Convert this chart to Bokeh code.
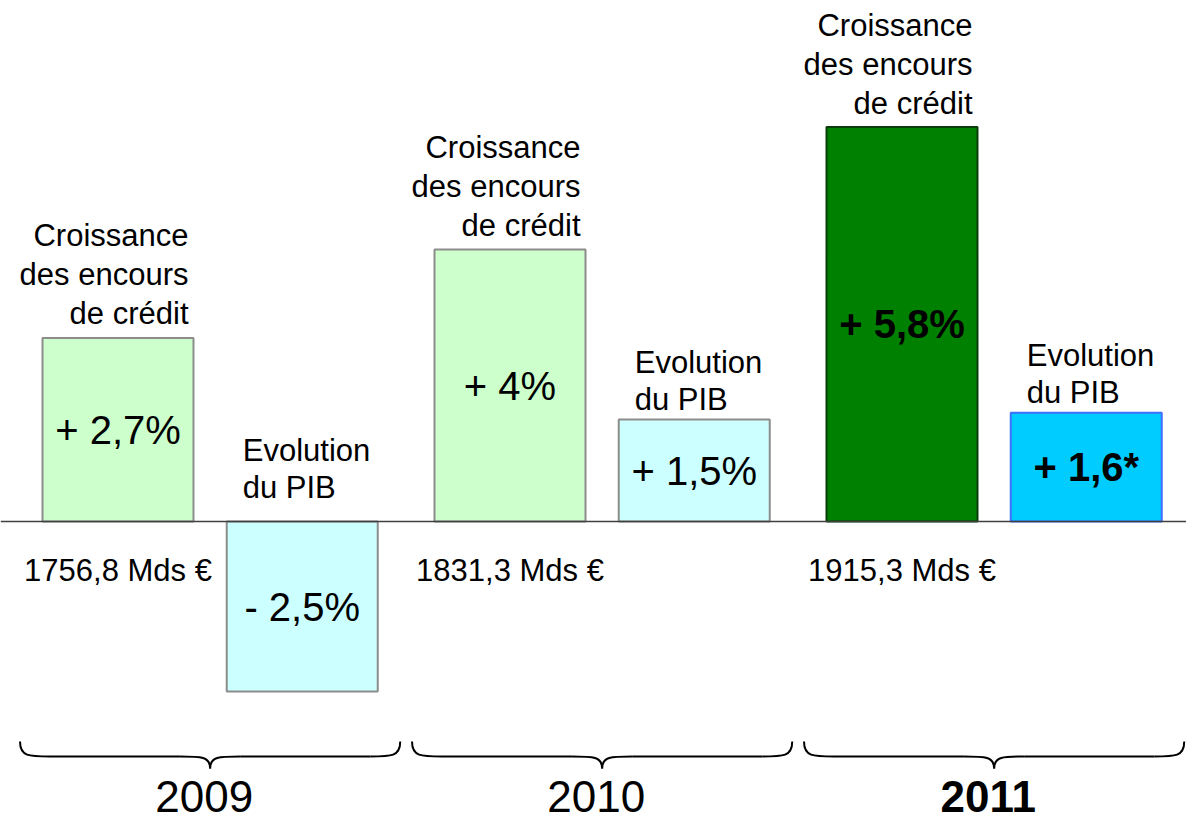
from bokeh.plotting import figure
from bokeh.models import Range1d, Span, ColumnDataSource
from bokeh.core.properties import value
from bokeh.embed import file_html
from bokeh.resources import INLINE

# ---- data ----
years = ["2009", "2010", "2011"]
credit_growth = [2.7, 4.0, 5.8]
pib_growth = [-2.5, 1.5, 1.6]
credit_labels = ["+ 2,7%", "+ 4%", "+ 5,8%"]
pib_labels = ["- 2,5%", "+ 1,5%", "+ 1,6*"]
encours = ["1756,8 Mds €", "1831,3 Mds €", "1915,3 Mds €"]
credit_title = ["Croissance", "des encours", "de crédit"]
pib_title = ["Evolution", "du PIB"]

credit_fill = ["#CCFFCC", "#CCFFCC", "#008000"]
credit_line = ["#8C8C8C", "#8C8C8C", "#0A3D0A"]
pib_fill = ["#CCFFFF", "#CCFFFF", "#00CCFF"]
pib_line = ["#8C8C8C", "#8C8C8C", "#3F6FFF"]
bold = ["normal", "normal", "bold"]

# ---- layout constants ----
W, H = 1186, 822
PX_X = 392.0      # pixels per group
PX_Y = 68.0       # pixels per percent
X0 = 117.5        # pixel of group 0 credit bar centre
BASE = 521.0      # pixel of zero line from top
BW = 151 / PX_X
PIB_OFF = 0.47
FONT = value("Liberation Sans")

p = figure(width=W, height=H, output_backend="svg", toolbar_location=None,
           x_range=Range1d(-X0 / PX_X, (W - X0) / PX_X),
           y_range=Range1d(-(H - BASE) / PX_Y, BASE / PX_Y),
           min_border=0, outline_line_color=None)
p.axis.visible = False
p.grid.visible = False
p.background_fill_color = "white"
p.border_fill_color = "white"

gx = list(range(len(years)))
px_x = [g + PIB_OFF for g in gx]

src_c = ColumnDataSource(dict(x=gx, top=credit_growth, fill=credit_fill, line=credit_line))
src_p = ColumnDataSource(dict(x=px_x, top=pib_growth, fill=pib_fill, line=pib_line))
p.vbar(x="x", top="top", bottom=0, width=BW, fill_color="fill", line_color="line",
       line_width=2, source=src_c)
p.vbar(x="x", top="top", bottom=0, width=BW, fill_color="fill", line_color="line",
       line_width=2, source=src_p)

# zero line
p.add_layout(Span(location=0, dimension="width", line_color="#404040", line_width=1.6))

def dy(px):
    return px / PX_Y

# value labels centred in bars
p.text(x=gx, y=[v / 2 for v in credit_growth], text=credit_labels, text_font=FONT,
       text_font_size="40px", text_font_style=bold, text_align="center",
       text_baseline="middle", text_color="black")
p.text(x=px_x, y=[v / 2 for v in pib_growth], text=pib_labels, text_font=FONT,
       text_font_size="40px", text_font_style=bold, text_align="center",
       text_baseline="middle", text_color="black")

# credit titles above bars (right aligned)
n = len(credit_title)
for k, line in enumerate(credit_title):
    p.text(x=[g + BW / 2 - 5 / PX_X for g in gx],
           y=[v + dy(24 + (n - 1 - k) * 39) for v in credit_growth],
           text=[line] * len(gx), text_font=FONT, text_font_size="31px",
           text_align="right", text_baseline="alphabetic", text_color="black")

# PIB titles above bars (left aligned)
m = len(pib_title)
for k, line in enumerate(pib_title):
    p.text(x=[x - BW / 2 + 16 / PX_X for x in px_x],
           y=[max(v, 0) + dy((20 if v > 0 else 34) + (m - 1 - k) * 37) for v in pib_growth],
           text=[line] * len(gx), text_font=FONT, text_font_size="31px",
           text_align="left", text_baseline="alphabetic", text_color="black")

# encours labels
p.text(x=gx, y=[-dy(49)] * len(gx), text=encours, text_font=FONT,
       text_font_size="31px", text_align="center", text_baseline="middle",
       text_color="black")

# braces
yt, ym, yb = -dy(220), -dy(235), -dy(247)
r = 30 / PX_X
for g in gx:
    xl, xr, tip = g - 0.25, g + 0.72, g + 0.235
    p.bezier(x0=[xl, tip - r, xr, tip + r], y0=[yt, ym, yt, ym],
             x1=[xl + r, tip, xr - r, tip], y1=[ym, yb, ym, yb],
             cx0=[xl, tip - r * 0.3, xr, tip + r * 0.3], cy0=[ym, ym, ym, ym],
             cx1=[xl + r * 0.3, tip, xr - r * 0.3, tip], cy1=[ym, ym, ym, ym],
             line_color="black", line_width=2)
    p.segment(x0=[xl + r, tip + r], y0=[ym, ym], x1=[tip - r, xr - r], y1=[ym, ym],
              line_color="black", line_width=2)

# year labels
p.text(x=[g + 0.22 for g in gx], y=[-dy(290)] * len(gx), text=years, text_font=FONT,
       text_font_size="44px", text_font_style=bold, text_align="center",
       text_baseline="bottom", text_color="black")

open("out.html", "w").write(file_html(p, INLINE))
